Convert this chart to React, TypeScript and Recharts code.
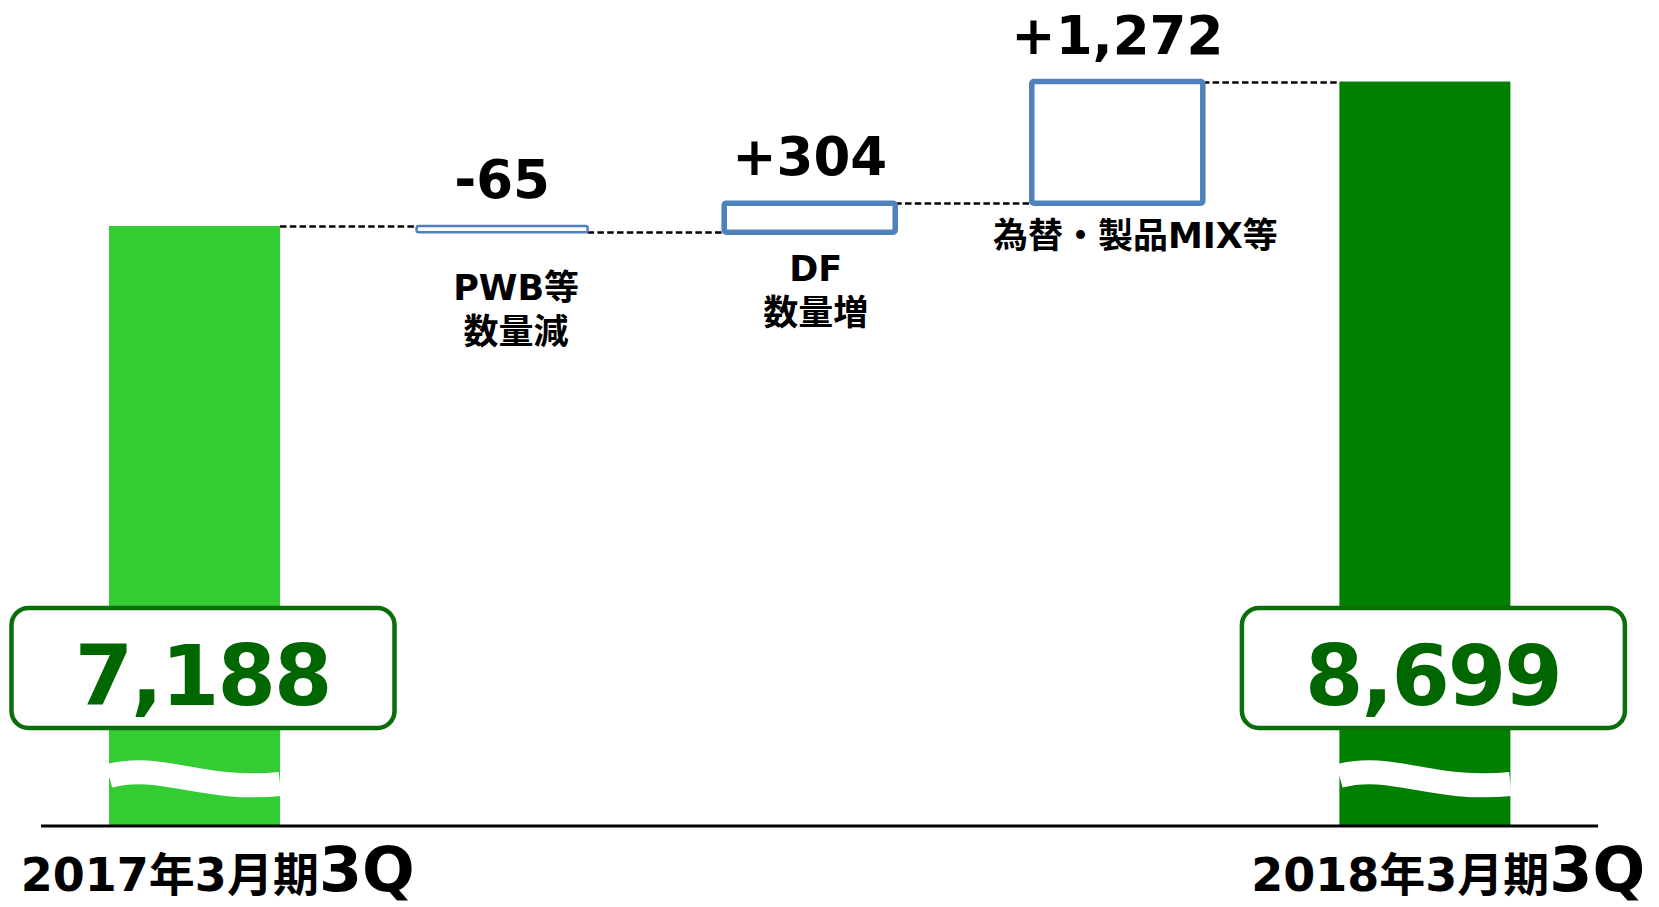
import { ComposedChart, Bar, XAxis, YAxis } from "recharts";

// categories (line breaks mark the two-line labels under the boxes)
const categories = ["2017年3月期3Q", "PWB等\n数量減", "DF\n数量増", "為替・製品MIX等", "2018年3月期3Q"];
const startTotal = 7188;
const changes = [-65, 304, 1272];
const endTotal = 8699;
const changeLabels = ["-65", "+304", "+1,272"];
const totalLabels = ["7,188", "8,699"];

const W = 1659;
const H = 907;
const MARGIN = { top: 10, right: 61, bottom: 0, left: 41 };
const PAD_RIGHT = 19;
const AXIS_H = 81;
const BASE_Y = H - MARGIN.bottom - AXIS_H; // pixel row of the x axis line
const BAND = (W - MARGIN.left - MARGIN.right - PAD_RIGHT) / categories.length;
const FONT = "'DejaVu Sans', 'Noto Sans CJK JP', sans-serif";

const totalColors = ["#33cc33", "#008000"];
const boxBlue = "#4f81bd";
const darkGreen = "#006600";

type Row = {
  name: string;
  kind: "total" | "change";
  value: number | [number, number];
  level: number;
  label: string;
};

function buildRows(): Row[] {
  const rows: Row[] = [];
  let running = startTotal;
  rows.push({ name: categories[0], kind: "total", value: startTotal, level: startTotal, label: totalLabels[0] });
  changes.forEach((d, i) => {
    const next = running + d;
    rows.push({
      name: categories[i + 1],
      kind: "change",
      value: [Math.min(running, next), Math.max(running, next)],
      level: next,
      label: changeLabels[i],
    });
    running = next;
  });
  rows.push({ name: categories[categories.length - 1], kind: "total", value: endTotal, level: endTotal, label: totalLabels[1] });
  return rows;
}

const rows = buildRows();

// caption placement under the boxes
const captionGap = [0, 68, 49, 45, 0];
const captionDx = [0, 14, 6, 18, 0];

function Connector({ x, y, width, last }: { x: number; y: number; width: number; last: boolean }) {
  if (last) return null;
  const yy = Math.round(y) + 0.5;
  return (
    <line x1={x + width} x2={x + BAND} y1={yy} y2={yy} stroke="#000" strokeWidth={2.5} strokeDasharray="6.5 3.3" />
  );
}

function WaterfallShape(props: any) {
  const { x, y, width, height, payload, index } = props;
  const cx = x + width / 2;
  const last = index === rows.length - 1;

  if (payload.kind === "total") {
    const bottom = y + height;
    const wave = `M ${x} ${bottom - 50} C ${x + width * 0.3} ${bottom - 64}, ${x + width * 0.55} ${bottom - 34}, ${x + width} ${bottom - 42}`;
    const bx = cx + 8;
    return (
      <g>
        <rect x={x} y={y} width={width} height={height} fill={totalColors[index === 0 ? 0 : 1]} />
        <Connector x={x} y={y} width={width} last={last} />
        <path d={wave} stroke="#fff" strokeWidth={24} fill="none" />
        <rect x={bx - 191} y={bottom - 218} width={383} height={120} rx={17} fill="#fff" stroke="#0a6e0a" strokeWidth={4.5} />
        <text x={bx} y={bottom - 121} textAnchor="middle" fontFamily={FONT} fontWeight="bold" fontSize={84} letterSpacing={-2} fill={darkGreen}>
          {payload.label}
        </text>
      </g>
    );
  }

  const sw = height < 15 ? 2.5 : 5.5;
  const lines = String(payload.name).split("\n");
  const capY = y + height + captionGap[index];
  const [lo] = payload.value as [number, number];
  const endY = payload.level === lo ? y + height : y;
  return (
    <g>
      <Connector x={x} y={endY} width={width} last={last} />
      <rect x={x} y={y} width={width} height={height} rx={2} fill="#fff" stroke={boxBlue} strokeWidth={sw} />
      <text x={cx} y={y - 28} textAnchor="middle" fontFamily={FONT} fontWeight="bold" fontSize={53} fill="#000">
        {payload.label}
      </text>
      {lines.map((t, i) => (
        <text key={i} x={cx + captionDx[index]} y={capY + i * 44} textAnchor="middle" fontFamily={FONT} fontWeight="bold" fontSize={35} fill="#000">
          {t}
        </text>
      ))}
    </g>
  );
}

function PeriodTick(props: any) {
  const { x, payload } = props;
  const label = String(payload.value);
  if (!label.endsWith("3Q")) return <g />;
  return (
    <text x={x + 23} y={BASE_Y + 65} textAnchor="middle" fontFamily={FONT} fontWeight="bold" fill="#000">
      <tspan fontSize={46}>{label.slice(0, -2)}</tspan>
      <tspan fontSize={62}>3Q</tspan>
    </text>
  );
}

export default function App() {
  return (
    <div style={{ position: "absolute", left: 0, top: 0, width: W, height: H, background: "#fff" }}>
      <ComposedChart width={W} height={H} data={rows} margin={MARGIN}>
        <XAxis
          dataKey="name"
          height={AXIS_H}
          interval={0}
          padding={{ left: 0, right: PAD_RIGHT }}
          axisLine={{ stroke: "#000", strokeWidth: 3 }}
          tickLine={false}
          tick={(p: any) => <PeriodTick {...p} />}
        />
        <YAxis hide type="number" domain={[914, 9447]} />
        <Bar dataKey="value" barSize={171} shape={(p: any) => <WaterfallShape {...p} />} isAnimationActive={false} />
      </ComposedChart>
    </div>
  );
}
